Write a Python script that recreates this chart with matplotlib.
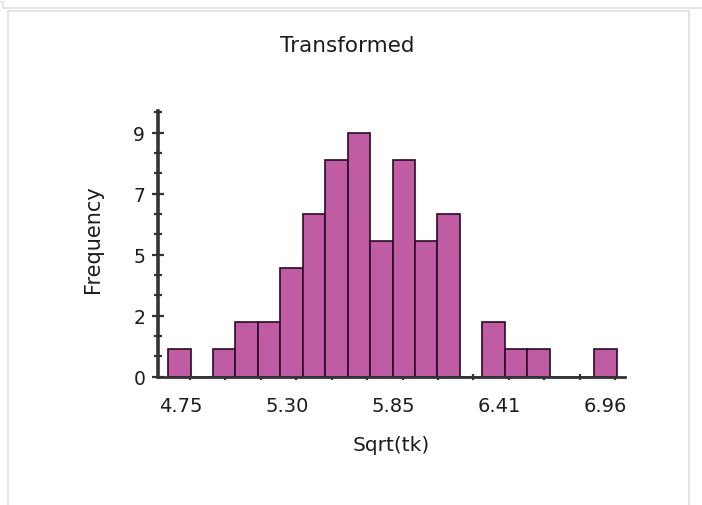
import numpy as np
import matplotlib
matplotlib.use('Agg')
import matplotlib.pyplot as plt
import matplotlib.transforms as mtransforms
from matplotlib.lines import Line2D
from matplotlib.ticker import FixedLocator, FixedFormatter

plt.rcParams['font.family'] = 'DejaVu Sans'
plt.rcParams['font.size'] = 13.5

# histogram of sqrt(tk): bin start, bin width, counts per bin
bin_start = 4.636
bin_width = 0.1167
counts = [1, 0, 1, 2, 2, 4, 6, 8, 9, 5, 8, 5, 6, 0, 2, 1, 1, 0, 0, 1]

x_ticks = [4.75, 5.3025, 5.855, 6.4075, 6.96]
x_labels = ['4.75', '5.30', '5.85', '6.41', '6.96']
y_ticks = [0, 2.25, 4.5, 6.75, 9]
y_labels = ['0', '2', '5', '7', '9']

W, H = 702, 506
fig = plt.figure(figsize=(W / 100, H / 100), dpi=100)
ax = fig.add_axes([158 / W, 1 - 377.5 / H, (625 - 158) / W, (377.5 - 112) / H])

edges = bin_start + bin_width * np.arange(len(counts))
ax.bar(edges, counts, width=bin_width, align='edge',
       color='#c05ca4', edgecolor='#2a0a24', linewidth=1.2, zorder=3)

ax.set_xlim(4.5836, 7.012)
ax.set_ylim(0, 9.8)

for s in ['top', 'right']:
    ax.spines[s].set_visible(False)
ax.spines['left'].set_linewidth(2.6)
ax.spines['left'].set_color('#333333')
ax.spines['bottom'].set_linewidth(2.0)
ax.spines['bottom'].set_color('#333333')
ax.spines['left'].set_zorder(4)
ax.spines['bottom'].set_zorder(4)

txt = '#1c1c1c'

# y ticks: labelled every 2.25, small ticks every 0.75
ax.yaxis.set_major_locator(FixedLocator(y_ticks))
ax.yaxis.set_major_formatter(FixedFormatter(y_labels))
ax.yaxis.set_minor_locator(FixedLocator(np.arange(0, 9.8, 0.75)))
ax.tick_params(axis='y', which='major', direction='inout', length=8,
               width=1.6, color='#333333', pad=5.2, labelcolor=txt)
ax.tick_params(axis='y', which='minor', direction='inout', length=5.8,
               width=1.6, color='#333333')

# x ticks: labelled every 0.5525, small ticks in between
ax.xaxis.set_major_locator(FixedLocator(x_ticks))
ax.xaxis.set_major_formatter(FixedFormatter(x_labels))
ax.xaxis.set_minor_locator(FixedLocator(4.75 + 0.5525 / 3 * np.arange(13)))
ax.tick_params(axis='x', which='both', direction='inout', length=4.3,
               width=1.6, color='#333333', pad=12, labelcolor=txt,
               labelsize=14)
shift = mtransforms.ScaledTranslation(-9.5 / 100, 0, fig.dpi_scale_trans)
for lab in ax.get_xticklabels():
    lab.set_transform(lab.get_transform() + shift)

ax.set_xlabel('Sqrt(tk)', color=txt, va='center', fontsize=14.5)
ax.xaxis.set_label_coords(0.499, -0.258)
ax.set_ylabel('Frequency', color=txt, va='center', fontsize=15)
ax.yaxis.set_label_coords(-0.139, 0.522)
ax.set_title('Transformed', x=0.405, y=1.2486, va='center', pad=0,
             color=txt, fontsize=15.5)

# light frame lines around the screenshot
frame = '#e2e2e2'
def fline(xs, ys):
    fig.add_artist(Line2D([x / W for x in xs], [1 - y / H for y in ys],
                          color=frame, linewidth=1.3))
fline([0, 3, 3, W], [3, 3, 9, 9])
fline([8, 8], [12, H])
fline([8, 689], [12, 12])
fline([689, 689], [12, H])

fig.savefig('out.png', dpi=100)
